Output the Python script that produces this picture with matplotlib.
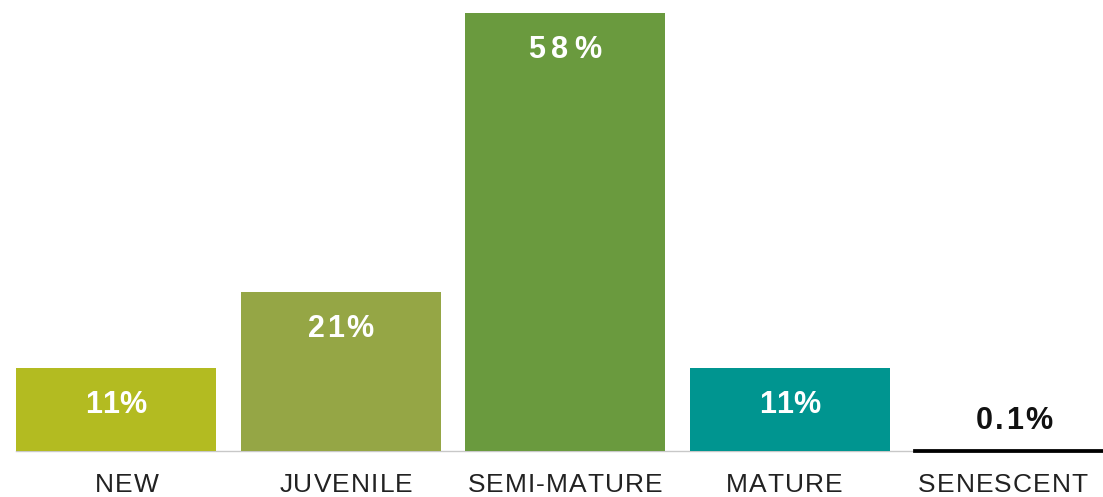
import numpy as np
import matplotlib
matplotlib.use("Agg")
import matplotlib.pyplot as plt

categories = ['NEW', 'JUVENILE', 'SEMI-MATURE', 'MATURE', 'SENESCENT']
values = [11, 21, 58, 11, 0.1]
labels = ['11%', '21%', '58%', '11%', '0.1%']
colors = ['#b3bb21', '#95a645', '#6a9a3e', '#009590', '#000000']
# letter spacing (px) of the value labels, the source chart is not uniform
value_tracking = [0, 2, 6, 0, 2]

plt.rcParams['font.family'] = ['Liberation Sans', 'DejaVu Sans']

fig = plt.figure(figsize=(11.03, 4.97), dpi=100)
ax = fig.add_axes([0, 0, 1, 1])
renderer = fig.canvas.get_renderer()


def tracked_text(s, xy, dy, spacing, dx=0, **kw):
    # draw text char by char so we can add letter spacing
    widths = []
    for ch in s:
        t = ax.text(0, 0, ch, **kw)
        widths.append(t.get_window_extent(renderer).width)
        t.remove()
    total = sum(widths) + spacing * (len(s) - 1)
    pos = dx - total / 2
    for ch, w in zip(s, widths):
        ax.annotate(ch, xy, xytext=(pos, dy), textcoords='offset pixels',
                    ha='left', va='center', **kw)
        pos += w + spacing


x = np.arange(len(categories))
bars = ax.bar(x, values, width=0.891, color=colors)
# the tiny senescent bar shows up as a black line
bars[-1].set_edgecolor('black')
bars[-1].set_linewidth(2)

ax.axhline(0, xmin=16 / 1103, xmax=913 / 1103, color='#c8c8c8', lw=1, zorder=0)

ax.set_xlim(-0.5167, 4.396)
ax.set_ylim(-6.09, 59.7)
ax.axis('off')

for xi, v, lab, sp in zip(x, values, labels, value_tracking):
    if v > 5:
        tracked_text(lab, (xi, v), -37, sp, color='white',
                     fontsize=22, fontweight='bold')
    else:
        tracked_text(lab, (xi, v), 29, sp, color='#111111',
                     fontsize=22, fontweight='bold')

# category labels sit on a slightly tighter spacing than the bars
for xi, cat in zip(x, categories):
    shift = (xi - 2) * (219 - 224.5)
    tracked_text(cat, (xi, 0), -34, 1.1, dx=shift, color='#222222', fontsize=19)

fig.savefig('out.png', dpi=100)
